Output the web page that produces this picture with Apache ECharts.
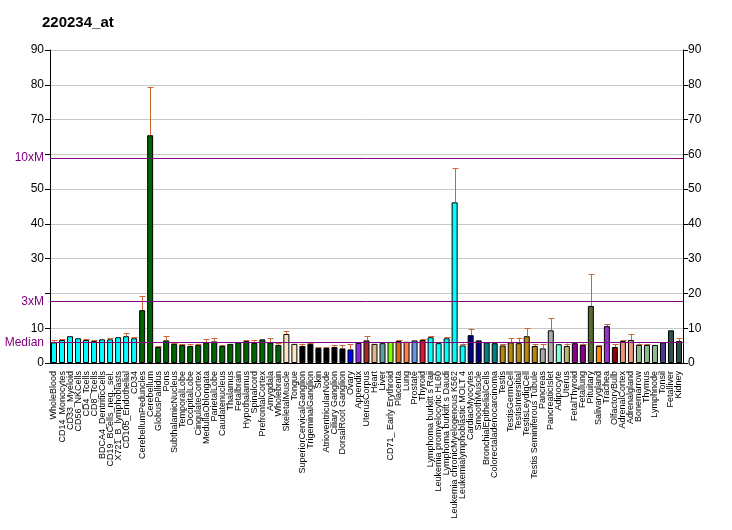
<!DOCTYPE html>
<html><head><meta charset="utf-8">
<script src="https://cdn.jsdelivr.net/npm/echarts@6/dist/echarts.min.js"></script>
<style>html,body{margin:0;padding:0;background:#fff}#c{width:732px;height:530px}</style>
</head><body><div id="c"></div>
<script>
const categories = ["WholeBlood","CD14_Monocytes","CD33_Myeloid","CD56_NKCells","CD4_Tcells","CD8_Tcells","BDCA4_DentriticCells","CD19_BCells_neg._sel.","X721_B_lymphoblasts","CD105_Endothelial","CD34","CerebellumPeduncles","Cerebellum","GlobusPallidus","Pons","SubthalamicNucleus","TemporalLobe","OccipitalLobe","CingulateCortex","MedullaOblongata","ParietalLobe","Caudatenucleus","Thalamus","Fetalbrain","Hypothalamus","Spinalcord","PrefrontalCortex","Amygdala","Wholebrain","SkeletalMuscle","Tongue","SuperiorCervicalGanglion","TrigeminalGanglion","Skin","AtrioventricularNode","Ciliary Ganglion","DorsalRoot Ganglion","Ovary","Appendix","UterusCorpus","Heart","Liver","CD71_ Early Erythroid","Placenta","Lung","Prostate","Thyroid","Lymphoma burkitt s Raji","Leukemia promyelocytic HL60","Lymphoma burkitt s Daudi","Leukemia chronicMyelogenous K562","Leukemialymphoblastic MOLT 4","CardiacMyocytes","SmoothMuscle","BronchialEpithelialCells","Colorectaladenocarcinoma","Testis","TestisGermCell","TestisIntersitial","TestisLeydigCell","Testis Seminiferous Tubule","Pancreas","PancreaticIslet","Adipocyte","Uterus","FetalThyroid","Fetallung","Pituitary","Salivarygland","Trachea","OlfactoryBulb","AdrenalCortex","Adrenalgland","Bonemarrow","Thymus","Lymphnode","Tonsil","Fetalliver","Kidney"];
const values = [5.95,6.6,7.7,7.1,6.6,6.3,6.8,6.8,7.4,7.7,7.1,15.2,65.5,4.6,6.5,5.5,5.2,4.9,5.2,5.95,6.2,4.9,5.5,5.95,6.3,5.8,6.8,5.9,5.2,8.35,5.5,4.9,5.5,4.3,4.3,4.6,4.2,3.9,5.8,6.5,5.5,5.7,6.05,6.3,6.1,6.5,6.6,7.4,5.7,7.1,46.2,5.05,8.0,6.5,5.95,5.7,5.05,5.95,5.7,7.7,4.9,4.2,9.4,5.4,4.9,5.7,5.2,16.4,4.9,10.6,4.6,6.3,6.6,5.2,5.2,5.2,5.95,9.4,6.3];
const errorTop = [6.5,6.8,7.7,7.1,6.9,6.5,6.8,7.1,7.4,8.6,7.4,19.2,79.3,4.8,7.7,5.8,5.4,5.4,5.6,6.9,7.3,5.2,5.5,5.95,6.5,6.5,6.8,7.2,5.8,9.1,5.5,5.6,5.8,4.5,4.5,5.1,5.1,5.4,5.8,7.7,5.5,5.7,6.05,6.5,6.1,6.5,6.8,7.7,5.7,7.4,56.0,5.6,9.9,6.5,5.95,5.7,5.4,7.1,7.3,10.0,5.4,5.4,12.9,5.4,5.6,5.7,5.6,25.6,5.1,11.2,5.4,6.5,8.4,5.6,5.4,5.2,5.95,9.4,7.1];
const yTicks = [0,10,20,30,40,50,60,70,80,90];
const median = 5.9;
const refLines = [{name:"Median", value: median},{name:"3xM", value: median*3},{name:"10xM", value: median*10}];
const barColors = ["#00FFFF","#00FFFF","#00FFFF","#00FFFF","#00FFFF","#00FFFF","#00FFFF","#00FFFF","#00FFFF","#00FFFF","#00FFFF",
"#006400","#006400","#006400","#006400","#006400","#006400","#006400","#006400","#006400","#006400","#006400","#006400","#006400","#006400","#006400","#006400","#006400","#006400",
"#FFE4C4","#FFE4C4","#000000","#000000","#000000","#000000","#000000","#000000","#0000FF","#8A2BE2","#A52A2A","#DEB887","#5F9EA0","#7FFF00","#D2691E","#FF7F50","#6495ED","#DC143C",
"#00FFFF","#00FFFF","#00FFFF","#00FFFF","#00FFFF","#000080","#000080","#008080","#008080","#B8860B","#B8860B","#B8860B","#B8860B","#B8860B","#A9A9A9","#A9A9A9","#7FFFD4","#BDB76B","#8B008B","#8B008B","#556B2F","#FF8C00","#9932CC","#8B0000","#E9967A","#E9967A","#8FBC8F","#8FBC8F","#8FBC8F","#483D8B","#2F4F4F","#2F4F4F"];

const FONT = '"Liberation Sans", Arial, sans-serif';
const PURPLE = '#800080';
const chart = echarts.init(document.getElementById('c'));
chart.setOption({
  animation: false,
  backgroundColor: '#fff',
  title: {text: '220234_at', left: 37, top: 10, textStyle: {fontSize: 15, fontWeight: 'bold', color: '#000', fontFamily: FONT}},
  grid: {left: 50, right: 49, top: 50, bottom: 167, containLabel: false, outerBoundsMode: 'none'},
  xAxis: {
    type: 'category', data: categories,
    axisLine: {lineStyle: {color: '#000', width: 1}},
    axisTick: {alignWithLabel: true, length: 5, lineStyle: {color: '#000'}},
    axisLabel: {rotate: 90, interval: 0, fontSize: 9, color: '#000', fontFamily: FONT, margin: 8}
  },
  yAxis: [{
    type: 'value', min: 0, max: 90, interval: 10, position: 'left',
    axisLine: {show: true, lineStyle: {color: '#000'}},
    axisTick: {show: true, length: 5, lineStyle: {color: '#000'}},
    axisLabel: {fontSize: 12, color: '#000', fontFamily: FONT, margin: 6,
      formatter: v => (v === 60 || v === 20) ? '' : String(v)},
    splitLine: {show: true, lineStyle: {color: '#C8C8C8', width: 1}}
  },{
    type: 'value', min: 0, max: 90, interval: 10, position: 'right',
    axisLine: {show: true, lineStyle: {color: '#000'}},
    axisTick: {show: true, length: 5, lineStyle: {color: '#000'}},
    axisLabel: {fontSize: 12, color: '#000', fontFamily: FONT, margin: 5},
    splitLine: {show: false}
  }],
  series: [{
    type: 'bar', data: values, barWidth: 6,
    itemStyle: {color: p => barColors[p.dataIndex], borderColor: '#000', borderWidth: 1},
    markLine: {
      silent: true, symbol: 'none', z: 5,
      lineStyle: {color: PURPLE, width: 1, type: 'solid', opacity: 1},
      label: {position: 'start', formatter: p => p.name, color: PURPLE, fontSize: 12, fontFamily: FONT, distance: 6},
      data: refLines.map(r => ({name: r.name, yAxis: r.value, lineStyle: {color: PURPLE, width: 1, type: 'solid'}}))
    }
  },{
    type: 'custom', z: 3,
    data: categories.map((c, i) => [i, values[i], errorTop[i]]),
    renderItem: (params, api) => {
      const v = api.value(1), e = api.value(2);
      if (e <= v) return null;
      const p0 = api.coord([api.value(0), v]);
      const p1 = api.coord([api.value(0), e]);
      const x = Math.round(p0[0]) + 0.5;
      const st = {stroke: '#CC6633', lineWidth: 1};
      return {type: 'group', children: [
        {type: 'line', shape: {x1: x, y1: p0[1], x2: x, y2: p1[1]}, style: st},
        {type: 'line', shape: {x1: x - 3, y1: Math.round(p1[1]) + 0.5, x2: x + 3, y2: Math.round(p1[1]) + 0.5}, style: st}
      ]};
    }
  }]
});
</script></body></html>
